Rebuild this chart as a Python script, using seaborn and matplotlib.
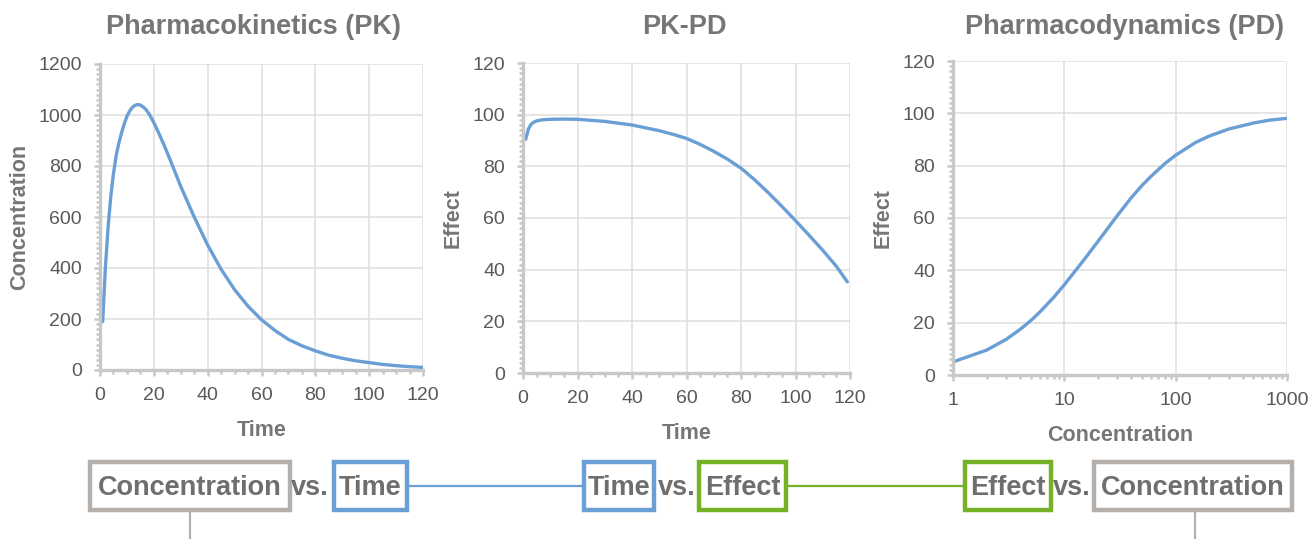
import matplotlib
matplotlib.use("Agg")
import matplotlib.pyplot as plt
import seaborn as sns
from matplotlib.ticker import MultipleLocator, LogLocator, NullFormatter, FixedLocator, FixedFormatter
from matplotlib.patches import Rectangle

# PK: concentracion vs tiempo
pk_time = [1, 2, 3, 4, 5, 6, 7, 8, 9, 10, 11, 12, 13, 14, 15, 16, 17, 18, 19, 20,
           22, 24, 26, 28, 30, 35, 40, 45, 50, 55, 60, 65, 70, 75, 80, 85, 90, 95,
           100, 105, 110, 115, 120]
pk_conc = [190, 400, 560, 680, 770, 840, 890, 930, 965, 995, 1015, 1030, 1038, 1041,
           1039, 1032, 1022, 1008, 990, 970, 925, 877, 826, 773, 720, 600, 490, 395,
           315, 250, 197, 155, 120, 95, 75, 58, 46, 36, 29, 22, 17, 13, 10]

# PK-PD: efecto vs tiempo
pkpd_time = [1, 2, 3, 4, 5, 7, 10, 15, 20, 30, 40, 50, 55, 60, 65, 70, 75, 80, 85,
             90, 95, 100, 105, 110, 115, 119]
pkpd_effect = [90.5, 94.5, 96.3, 97.1, 97.6, 98.0, 98.2, 98.3, 98.2, 97.4, 96.0, 93.8,
               92.4, 90.8, 88.5, 85.8, 82.8, 79.3, 74.8, 69.8, 64.5, 59.0, 53.3, 47.5,
               41.3, 35.3]

# PD: efecto vs concentracion (escala log)
pd_conc = [1, 2, 3, 4, 5, 6, 8, 10, 15, 20, 30, 40, 50, 60, 80, 100, 150, 200, 300,
           500, 700, 1000]
pd_effect = [5, 9.5, 13.6, 17.4, 20.8, 24, 29.6, 34.5, 44, 51, 61, 67.8, 72.5, 75.9,
             80.8, 84, 88.8, 91.3, 94, 96.3, 97.4, 98.1]

titles = ["Pharmacokinetics (PK)", "PK-PD", "Pharmacodynamics (PD)"]

sns.set_style("white")
plt.rcParams["font.family"] = ["Liberation Sans", "DejaVu Sans"]

BLUE = "#6a9fd6"
GREEN = "#76b227"
BOXGRAY = "#b5afac"
SPINE = "#c8c8c8"
GRID = "#dedede"
TICK = "#595959"
LABEL = "#767676"

W, H = 1309, 539
fig = plt.figure(figsize=(W / 100, H / 100), dpi=100)


def px_axes(left, top, right, bottom):
    return fig.add_axes([left / W, 1 - bottom / H, (right - left) / W, (bottom - top) / H])


def style(ax):
    for s in ["top", "right"]:
        ax.spines[s].set_visible(False)
    for s in ["left", "bottom"]:
        ax.spines[s].set_color(SPINE)
        ax.spines[s].set_linewidth(2.4)
        ax.spines[s].set_zorder(3)
    ax.grid(True, which="major", color=GRID, linewidth=1.1)
    ax.set_axisbelow(True)
    ax.tick_params(which="both", direction="out", color=SPINE, width=1.8,
                   bottom=True, left=True, top=False, right=False,
                   labelsize=14, labelcolor=TICK)
    ax.tick_params(which="major", length=4)
    ax.tick_params(which="minor", length=3)
    ax.tick_params(axis="y", which="major", pad=9)
    ax.tick_params(axis="x", which="major", pad=8)


lab = dict(fontsize=15.5, fontweight="bold", color=LABEL)

# panel 1
ax1 = px_axes(100, 64, 423, 370)
sns.lineplot(x=pk_time, y=pk_conc, ax=ax1, color=BLUE, linewidth=2.4)
ax1.set_xlim(0, 120)
ax1.set_ylim(0, 1200)
ax1.xaxis.set_major_locator(MultipleLocator(20))
ax1.xaxis.set_minor_locator(MultipleLocator(5))
ax1.yaxis.set_major_locator(MultipleLocator(200))
ax1.yaxis.set_minor_locator(MultipleLocator(20))
style(ax1)
ax1.set_xlabel("Time", labelpad=12, **lab)
ax1.set_ylabel("Concentration", labelpad=6, **lab)

# panel 2
ax2 = px_axes(523, 63, 850, 373)
sns.lineplot(x=pkpd_time, y=pkpd_effect, ax=ax2, color=BLUE, linewidth=2.4)
ax2.set_xlim(0, 120)
ax2.set_ylim(0, 120)
ax2.xaxis.set_major_locator(MultipleLocator(20))
ax2.xaxis.set_minor_locator(MultipleLocator(5))
ax2.yaxis.set_major_locator(MultipleLocator(20))
ax2.yaxis.set_minor_locator(MultipleLocator(2))
style(ax2)
ax2.set_xlabel("Time", labelpad=12, **lab)
ax2.set_ylabel("Effect", labelpad=6, **lab)

# panel 3
ax3 = px_axes(953, 61, 1287, 375)
sns.lineplot(x=pd_conc, y=pd_effect, ax=ax3, color=BLUE, linewidth=2.4)
ax3.set_xscale("log")
ax3.set_xlim(1, 1000)
ax3.set_ylim(0, 120)
ax3.xaxis.set_major_locator(FixedLocator([1, 10, 100, 1000]))
ax3.xaxis.set_major_formatter(FixedFormatter(["1", "10", "100", "1000"]))
ax3.xaxis.set_minor_locator(LogLocator(base=10, subs=range(2, 10)))
ax3.xaxis.set_minor_formatter(NullFormatter())
ax3.yaxis.set_major_locator(MultipleLocator(20))
ax3.yaxis.set_minor_locator(MultipleLocator(2))
style(ax3)
ax3.set_xlabel("Concentration", labelpad=12, **lab)
ax3.set_ylabel("Effect", labelpad=6, **lab)

for t, cx in zip(titles, [253, 684, 1125]):
    fig.text(cx / W, 1 - 27 / H, t, ha="center", va="center", fontsize=19.5,
             fontweight="bold", color=LABEL)

# esquema inferior
bg = fig.add_axes([0, 0, 1, 1], zorder=-1)
bg.set_xlim(0, W)
bg.set_ylim(H, 0)
bg.axis("off")

bg.plot([409, 582], [486, 486], color=BLUE, linewidth=1.6)
bg.plot([788, 963], [486, 486], color=GREEN, linewidth=1.6)
bg.plot([190, 190], [512, H], color=BOXGRAY, linewidth=1.6)
bg.plot([1195, 1195], [512, H], color=BOXGRAY, linewidth=1.6)

boxes = [(90, 290, BOXGRAY, "Concentration"), (334, 407, BLUE, "Time"),
         (584, 654, BLUE, "Time"), (699, 786, GREEN, "Effect"),
         (965, 1051, GREEN, "Effect"), (1094, 1292, BOXGRAY, "Concentration")]
for x0, x1, c, txt in boxes:
    bg.add_patch(Rectangle((x0, 462), x1 - x0, 48, fill=True, facecolor="white",
                           edgecolor=c, linewidth=3.2))
    bg.text((x0 + x1) / 2, 488, txt, ha="center", va="center", fontsize=19.5,
            fontweight="bold", color="#6e6e6e")
for cx in [310, 677, 1072]:
    bg.text(cx, 488, "vs.", ha="center", va="center", fontsize=19.5,
            fontweight="bold", color="#6e6e6e")

fig.savefig("out.png", dpi=100)
